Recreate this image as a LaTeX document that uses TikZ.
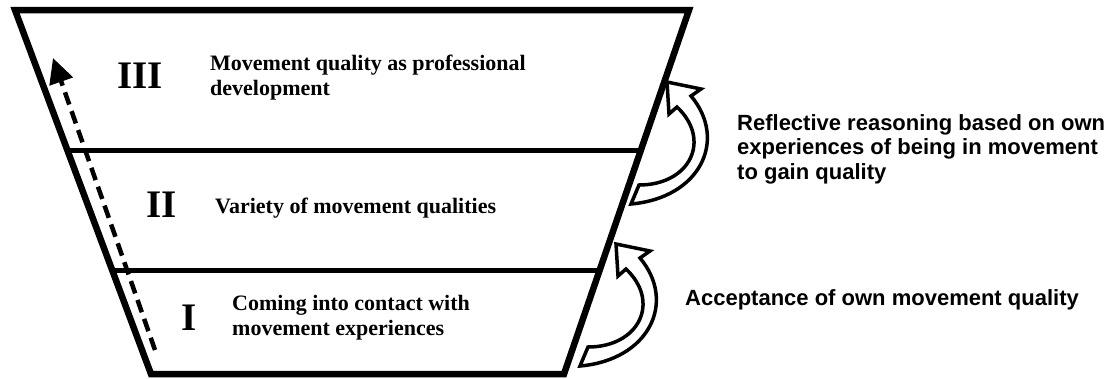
\documentclass[tikz,border=0pt]{standalone}
\usepackage{fontspec}
\setmainfont{Liberation Serif}
\setsansfont{Liberation Sans}
\usetikzlibrary{arrows.meta}
\begin{document}
\begin{tikzpicture}[x=1pt,y=-1pt,
  frame/.style={line width=6.5pt, line join=miter},
  divider/.style={line width=5pt},
  numeral/.style={font=\fontsize{39}{39}\selectfont\bfseries, inner sep=0pt},
  level/.style={font=\fontsize{22}{25}\selectfont\bfseries, align=left, anchor=base west, inner sep=0pt},
  note/.style={font=\sffamily\fontsize{22}{24.5}\selectfont\bfseries, align=left, anchor=base west, inner sep=0pt},
  growth/.style={line width=4.5pt, dash pattern=on 13pt off 7pt, -{Triangle[length=25pt,width=24pt]}},
  hollow/.style={line width=3.5pt, fill=white, line join=miter},
  bendarrow/.pic={
    \draw[hollow] (0,0) .. controls (69,-6) and (97,-64) .. (60,-108)
      -- (70,-115) -- (36,-122) -- (38,-90) -- (46,-97)
      .. controls (81,-64) and (59,-19) .. (8,-19) -- cycle;
  }
]
\useasboundingbox (0,0) rectangle (1116,378);
% funnel corners
\coordinate (TL) at (15,10);
\coordinate (TR) at (689,10);
\coordinate (BR) at (564,374);
\coordinate (BL) at (151,374);
\coordinate (D1L) at (67,150);
\coordinate (D1R) at (641,150);
\coordinate (D2L) at (112,270);
\coordinate (D2R) at (600,270);
\draw[frame] (TL) -- (TR) -- (BR) -- (BL) -- cycle;
\draw[divider] (D1L) -- (D1R);
\draw[divider] (D2L) -- (D2R);
% dashed growth arrow
\coordinate (gS) at (155,350);
\coordinate (gE) at (53,58);
\draw[growth] (gS) -- (gE);
% curved hollow arrows
\pic at (631,204) {bendarrow};
\pic at (580,366) {bendarrow};
% numerals
\node[numeral] (n3) at (140,76) {III};
\node[numeral] (n2) at (162,205) {II};
\node[numeral] (n1) at (189,318) {I};
% level texts (anchor = baseline of last line)
\node[level] (t3) at (210,95) {Movement quality as professional\\development};
\node[level] (t2) at (215,213) {Variety of movement qualities};
\node[level] (t1) at (232,335) {Coming into contact with\\movement experiences};
% side notes
\node[note] (r1) at (737,179) {Reflective reasoning based on own\\experiences of being in movement\\to gain quality};
\node[note] (r2) at (685,305) {Acceptance of own movement quality};
\end{tikzpicture}
\end{document}
